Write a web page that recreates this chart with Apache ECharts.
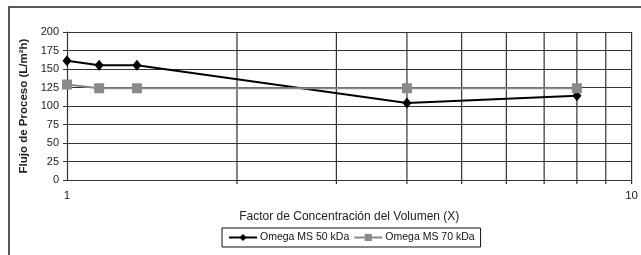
<!DOCTYPE html>
<html>
<head>
<meta charset="utf-8">
<script src="https://cdn.jsdelivr.net/npm/echarts@6/dist/echarts.min.js"></script>
<style>
  html, body { margin: 0; padding: 0; background: #fff; }
  #chart { width: 641px; height: 255px; }
</style>
</head>
<body>
<div id="chart"></div>
<script>
// datos
const vcf = [1, 1.14, 1.33, 4, 8]
const flujo50 = [161, 155, 155, 104, 114]
const flujo70 = [129, 124, 124, 124, 124]
const gridX = [2, 3, 4, 5, 6, 7, 8, 9, 10]
const yTicks = [0, 25, 50, 75, 100, 125, 150, 175, 200]

const chart = echarts.init(document.getElementById('chart'))
const font = 'Liberation Sans, Arial, sans-serif'

const option = {
  animation: false,
  backgroundColor: '#fff',
  textStyle: { fontFamily: font },
  graphic: [
    {
      type: 'rect',
      shape: { x: 9, y: 7, width: 700, height: 300 },
      style: { fill: 'none', stroke: '#222', lineWidth: 1.5 },
      silent: true
    }
  ],
  grid: { left: 67, right: 6, top: 32, bottom: 75 },
  xAxis: {
    type: 'log',
    logBase: 10,
    min: 1,
    max: 10,
    name: 'Factor de Concentración del Volumen (X)',
    nameLocation: 'middle',
    nameGap: 31,
    nameTextStyle: { fontSize: 12, color: '#222', fontFamily: font },
    axisLine: { show: true, lineStyle: { color: '#333', width: 1.2 } },
    axisTick: { show: false },
    axisLabel: { fontSize: 11.5, color: '#222', margin: 10, fontFamily: font },
    splitLine: { show: false }
  },
  yAxis: {
    type: 'value',
    min: yTicks[0],
    max: yTicks[yTicks.length - 1],
    interval: 25,
    name: 'Flujo de Proceso (L/m²h)',
    nameLocation: 'middle',
    nameGap: 34,
    nameTextStyle: { fontSize: 11.5, fontWeight: 'bold', color: '#222', fontFamily: font },
    axisLine: { show: true, lineStyle: { color: '#333', width: 1.2 } },
    axisTick: { show: true, length: 4, lineStyle: { color: '#333' } },
    axisLabel: { fontSize: 11, color: '#222', margin: 8, fontFamily: font },
    splitLine: { show: true, lineStyle: { color: '#333', width: 1.2 } }
  },
  legend: {
    left: 222,
    top: 228,
    itemGap: 4,
    itemWidth: 28,
    itemHeight: 9,
    padding: [4, 6, 4, 6],
    borderColor: '#111',
    borderWidth: 1,
    textStyle: { fontSize: 10.5, color: '#111', fontFamily: font, padding: [0, 0, 0, -2] },
    data: ['Omega MS 50 kDa', 'Omega MS 70 kDa']
  },
  series: [
    {
      // lineas verticales de la grilla y marcas del eje x
      type: 'custom',
      silent: true,
      clip: false,
      data: gridX,
      encode: { x: 0 },
      renderItem: (params, api) => {
        const v = api.value(0)
        const top = api.coord([v, 200])
        const bottom = api.coord([v, 0])
        return {
          type: 'line',
          shape: { x1: top[0], y1: top[1], x2: bottom[0], y2: bottom[1] + 4 },
          style: { stroke: '#333', lineWidth: 1.2 }
        }
      },
      z: 1
    },
    {
      name: 'Omega MS 50 kDa',
      type: 'line',
      data: vcf.map((x, i) => [x, flujo50[i]]),
      symbol: 'diamond',
      symbolSize: [9, 11],
      lineStyle: { color: '#000', width: 2 },
      itemStyle: { color: '#000' },
      z: 3
    },
    {
      name: 'Omega MS 70 kDa',
      type: 'line',
      data: vcf.map((x, i) => [x, flujo70[i]]),
      symbol: 'rect',
      symbolSize: 10,
      lineStyle: { color: '#8a8a8a', width: 2 },
      itemStyle: { color: '#8a8a8a' },
      z: 4
    }
  ]
}

chart.setOption(option)
</script>
</body>
</html>
